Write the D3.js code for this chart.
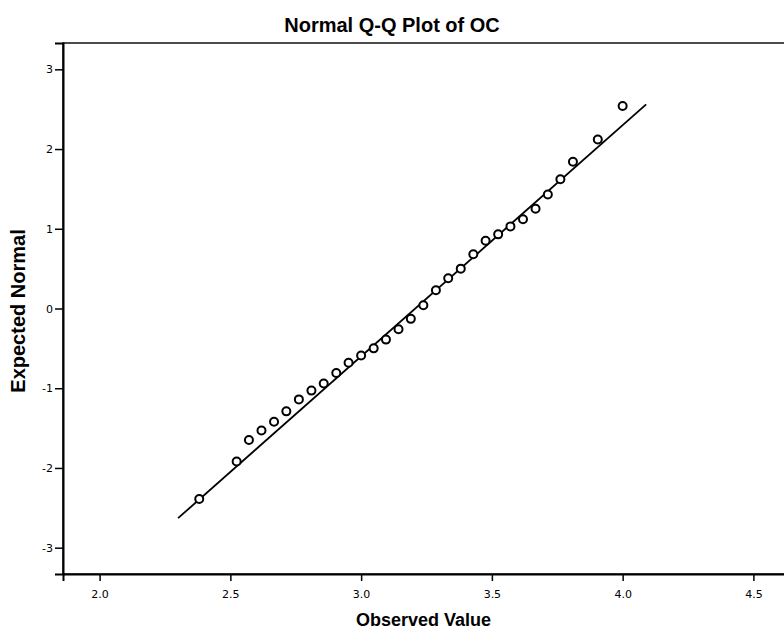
<!DOCTYPE html>
<html>
<head>
<meta charset="utf-8">
<script src="https://cdn.jsdelivr.net/npm/d3@7"></script>
<style>
  html, body { margin: 0; padding: 0; background: #fff; }
  svg { display: block; }
</style>
</head>
<body>
<svg id="chart" width="784" height="631"></svg>
<script>
// ---- data ----
const observedValues = [2.381, 2.524, 2.571, 2.619, 2.667, 2.714, 2.762, 2.810, 2.857, 2.905,
  2.952, 3.000, 3.048, 3.095, 3.143, 3.190, 3.238, 3.286, 3.333, 3.381,
  3.429, 3.476, 3.524, 3.571, 3.619, 3.667, 3.714, 3.762, 3.810, 3.905, 4.000];
const expectedNormal = [-2.39, -1.92, -1.65, -1.53, -1.42, -1.29, -1.14, -1.03, -0.94, -0.81,
  -0.68, -0.59, -0.50, -0.39, -0.26, -0.13, 0.04, 0.23, 0.38, 0.50,
  0.68, 0.85, 0.93, 1.03, 1.12, 1.25, 1.43, 1.62, 1.84, 2.12, 2.54];
const lineObserved = [2.30, 4.09];
const lineExpected = [-2.63, 2.56];
const xTicks = [2.0, 2.5, 3.0, 3.5, 4.0, 4.5];
const yTicks = [-3, -2, -1, 0, 1, 2, 3];
const titleText = "Normal Q-Q Plot of OC";
const xLabel = "Observed Value";
const yLabel = "Expected Normal";

// ---- layout ----
const W = 784, H = 631;
const mLeft = 63, mRight = 790, mTop = 43, mBottom = 574;

const svg = d3.select("#chart");
const x = d3.scaleLinear().domain([1.86, 4.64]).range([mLeft, mRight]);
const y = d3.scaleLinear().domain([-3.33, 3.33]).range([mBottom, mTop]);

// frame
svg.append("rect")
  .attr("x", mLeft).attr("y", mTop)
  .attr("width", mRight - mLeft).attr("height", mBottom - mTop)
  .attr("fill", "none").attr("stroke", "#111").attr("stroke-width", 1.5);

// axes
const xAxis = svg.append("g")
  .attr("transform", `translate(0,${mBottom})`)
  .call(d3.axisBottom(x).tickValues(xTicks).tickFormat(d => d.toFixed(1)).tickSize(7).tickPadding(9));
const yAxis = svg.append("g")
  .attr("transform", `translate(${mLeft},0)`)
  .call(d3.axisLeft(y).tickValues(yTicks).tickFormat(d => String(d)).tickSize(8).tickPadding(2));

[xAxis, yAxis].forEach(g => {
  g.select(".domain").attr("stroke", "#000").attr("stroke-width", 2);
  g.selectAll(".tick line").attr("stroke", "#000").attr("stroke-width", 1.5);
  g.selectAll(".tick text")
    .attr("fill", "#000")
    .style("font-family", "'DejaVu Sans', sans-serif")
    .style("font-size", "11px");
});

// reference line
svg.append("line")
  .attr("x1", x(lineObserved[0])).attr("y1", y(lineExpected[0]))
  .attr("x2", x(lineObserved[1])).attr("y2", y(lineExpected[1]))
  .attr("stroke", "#000").attr("stroke-width", 1.8);

// points
svg.append("g").selectAll("circle")
  .data(observedValues.map((v, i) => [v, expectedNormal[i]]))
  .join("circle")
  .attr("cx", d => x(d[0]))
  .attr("cy", d => y(d[1]))
  .attr("r", 4)
  .attr("fill", "#fff")
  .attr("stroke", "#000")
  .attr("stroke-width", 2);

// title
svg.append("text")
  .attr("x", 392).attr("y", 32)
  .attr("text-anchor", "middle")
  .style("font-family", "'Liberation Sans', Arial, sans-serif")
  .style("font-weight", "bold")
  .style("font-size", "20px")
  .text(titleText);

// x label
svg.append("text")
  .attr("x", (mLeft + mRight) / 2 - 3).attr("y", 626)
  .attr("text-anchor", "middle")
  .style("font-family", "'Liberation Sans', Arial, sans-serif")
  .style("font-weight", "bold")
  .style("font-size", "18px")
  .text(xLabel);

// y label
svg.append("text")
  .attr("transform", `translate(25,311) rotate(-90)`)
  .attr("text-anchor", "middle")
  .style("font-family", "'Liberation Sans', Arial, sans-serif")
  .style("font-weight", "bold")
  .style("font-size", "20px")
  .text(yLabel);
</script>
</body>
</html>
